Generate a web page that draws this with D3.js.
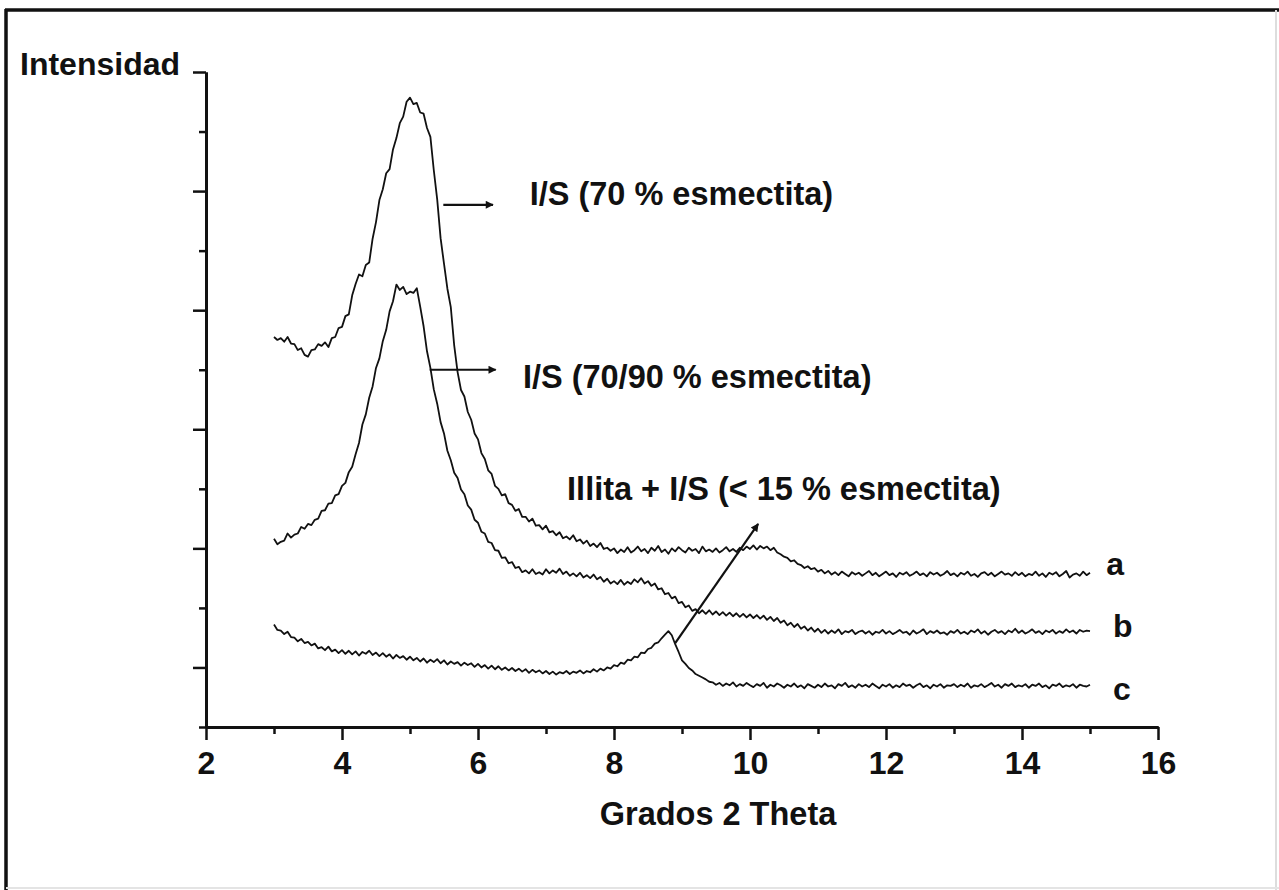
<!DOCTYPE html>
<html>
<head>
<meta charset="utf-8">
<script src="https://cdn.jsdelivr.net/npm/d3@7"></script>
<style>
  body { margin: 0; background: #fff; }
  svg { display: block; }
  text { font-family: "Liberation Sans", Arial, sans-serif; font-weight: bold; fill: #111; }
</style>
</head>
<body>
<div class="container"></div>
<script>
var svgWidth = 1279;
var svgHeight = 890;

// 2-theta sampling grid (degrees), 3.00 .. 15.00 step 0.05
var theta = d3.range(300, 1501, 5).map(function (d) { return d / 100; });

// intensities (arbitrary units)
var seriesA = [
  6.55, 6.50, 6.53, 6.47, 6.55, 6.44, 6.43, 6.33, 6.36, 6.25,
  6.22, 6.33, 6.34, 6.43, 6.40, 6.46, 6.38, 6.53, 6.55, 6.70,
  6.72, 6.90, 6.93, 7.25, 7.44, 7.60, 7.57, 7.76, 7.80, 8.20,
  8.48, 8.85, 9.03, 9.30, 9.37, 9.70, 9.89, 10.14, 10.25, 10.50,
  10.57, 10.46, 10.48, 10.32, 10.30, 10.06, 9.91, 9.35, 8.86, 8.21,
  7.78, 7.36, 7.05, 6.41, 5.96, 5.66, 5.55, 5.29, 5.16, 4.93,
  4.83, 4.60, 4.50, 4.31, 4.25, 4.05, 4.00, 3.89, 3.91, 3.76,
  3.73, 3.63, 3.66, 3.53, 3.53, 3.45, 3.50, 3.38, 3.39, 3.32,
  3.38, 3.27, 3.29, 3.22, 3.27, 3.17, 3.20, 3.15, 3.22, 3.12,
  3.15, 3.08, 3.13, 3.04, 3.08, 3.02, 3.09, 2.99, 3.01, 2.96,
  3.00, 2.92, 2.98, 2.94, 3.02, 2.93, 2.97, 3.03, 2.95, 2.99,
  2.92, 3.01, 2.96, 3.04, 2.94, 2.98, 2.91, 3.00, 2.95, 3.02,
  2.97, 2.93, 3.01, 2.96, 2.99, 2.92, 3.03, 2.95, 2.98, 2.94,
  3.00, 2.93, 2.97, 3.02, 2.95, 2.99, 2.94, 3.01, 2.97, 3.03,
  2.99, 3.05, 2.98, 3.04, 3.00, 3.03, 2.97, 3.01, 2.93, 2.90,
  2.86, 2.84, 2.78, 2.80, 2.74, 2.72, 2.67, 2.70, 2.65, 2.67,
  2.61, 2.64, 2.58, 2.62, 2.56, 2.60, 2.55, 2.61, 2.57, 2.53,
  2.60, 2.56, 2.59, 2.54, 2.58, 2.62, 2.55, 2.59, 2.53, 2.57,
  2.61, 2.55, 2.58, 2.52, 2.59, 2.56, 2.60, 2.54, 2.57, 2.61,
  2.55, 2.58, 2.53, 2.60, 2.56, 2.59, 2.54, 2.57, 2.62, 2.55,
  2.58, 2.53, 2.59, 2.56, 2.61, 2.54, 2.57, 2.52, 2.58, 2.60,
  2.55, 2.59, 2.53, 2.57, 2.61, 2.56, 2.58, 2.54, 2.60, 2.55,
  2.59, 2.53, 2.57, 2.55, 2.61, 2.54, 2.58, 2.52, 2.59, 2.56,
  2.60, 2.53, 2.57, 2.62, 2.51, 2.56, 2.58, 2.54, 2.61, 2.55,
  2.59
];
var seriesB = [
  3.16, 3.07, 3.11, 3.13, 3.25, 3.18, 3.23, 3.25, 3.36, 3.33,
  3.41, 3.39, 3.48, 3.50, 3.63, 3.64, 3.75, 3.76, 3.89, 3.91,
  4.05, 4.10, 4.28, 4.37, 4.58, 4.77, 5.08, 5.25, 5.53, 5.72,
  6.03, 6.19, 6.48, 6.67, 6.98, 7.15, 7.43, 7.34, 7.39, 7.27,
  7.31, 7.29, 7.37, 7.06, 6.73, 6.31, 6.03, 5.67, 5.43, 5.12,
  4.93, 4.64, 4.48, 4.27, 4.18, 3.99, 3.91, 3.72, 3.65, 3.48,
  3.43, 3.28, 3.25, 3.11, 3.09, 2.97, 2.96, 2.84, 2.85, 2.75,
  2.77, 2.67, 2.69, 2.60, 2.63, 2.58, 2.65, 2.57, 2.60, 2.56,
  2.65, 2.58, 2.63, 2.59, 2.66, 2.57, 2.61, 2.54, 2.58, 2.53,
  2.59, 2.51, 2.55, 2.50, 2.56, 2.48, 2.52, 2.44, 2.49, 2.41,
  2.45, 2.40, 2.47, 2.39, 2.44, 2.40, 2.48, 2.43, 2.50, 2.41,
  2.45, 2.37, 2.41, 2.31, 2.33, 2.23, 2.25, 2.16, 2.19, 2.08,
  2.10, 2.01, 2.04, 1.95, 1.98, 1.91, 1.96, 1.90, 1.96, 1.89,
  1.94, 1.88, 1.93, 1.87, 1.92, 1.86, 1.91, 1.85, 1.90, 1.84,
  1.89, 1.83, 1.88, 1.82, 1.87, 1.80, 1.85, 1.78, 1.83, 1.75,
  1.79, 1.71, 1.75, 1.68, 1.73, 1.65, 1.69, 1.62, 1.67, 1.60,
  1.65, 1.58, 1.63, 1.57, 1.62, 1.58, 1.64, 1.56, 1.61, 1.59,
  1.63, 1.56, 1.60, 1.62, 1.57, 1.61, 1.55, 1.60, 1.58, 1.63,
  1.57, 1.61, 1.56, 1.59, 1.63, 1.58, 1.60, 1.55, 1.62, 1.57,
  1.60, 1.64, 1.56, 1.61, 1.58, 1.62, 1.57, 1.59, 1.55, 1.61,
  1.58, 1.63, 1.57, 1.60, 1.56, 1.62, 1.59, 1.64, 1.57, 1.61,
  1.55, 1.60, 1.63, 1.58, 1.61, 1.56, 1.62, 1.59, 1.65, 1.58,
  1.62, 1.57, 1.60, 1.64, 1.58, 1.61, 1.56, 1.62, 1.59, 1.63,
  1.57, 1.61, 1.58, 1.64, 1.59, 1.62, 1.57, 1.63, 1.60, 1.62,
  1.61
];
var seriesC = [
  1.72, 1.63, 1.62, 1.56, 1.60, 1.51, 1.50, 1.44, 1.48, 1.41,
  1.43, 1.37, 1.40, 1.32, 1.34, 1.29, 1.35, 1.27, 1.30, 1.24,
  1.29, 1.23, 1.28, 1.22, 1.27, 1.20, 1.26, 1.23, 1.28, 1.21,
  1.25, 1.19, 1.24, 1.18, 1.22, 1.15, 1.21, 1.16, 1.19, 1.13,
  1.18, 1.12, 1.16, 1.10, 1.15, 1.08, 1.13, 1.09, 1.14, 1.07,
  1.12, 1.05, 1.10, 1.06, 1.09, 1.03, 1.08, 1.04, 1.07, 1.01,
  1.06, 1.00, 1.04, 0.98, 1.03, 0.97, 1.02, 0.96, 1.00, 0.95,
  0.99, 0.94, 0.98, 0.93, 0.97, 0.91, 0.96, 0.92, 0.95, 0.90,
  0.94, 0.89, 0.93, 0.88, 0.92, 0.90, 0.94, 0.89, 0.93, 0.91,
  0.95, 0.90, 0.94, 0.92, 0.97, 0.93, 0.98, 0.95, 1.00, 0.98,
  1.04, 1.02, 1.08, 1.06, 1.13, 1.12, 1.18, 1.17, 1.25, 1.24,
  1.31, 1.33, 1.40, 1.42, 1.49, 1.55, 1.61, 1.54, 1.39, 1.26,
  1.12, 1.06, 0.99, 0.95, 0.89, 0.86, 0.83, 0.80, 0.76, 0.75,
  0.71, 0.74, 0.69, 0.73, 0.70, 0.75, 0.68, 0.72, 0.69, 0.74,
  0.70, 0.67, 0.72, 0.69, 0.74, 0.66, 0.71, 0.68, 0.73, 0.70,
  0.66, 0.71, 0.68, 0.73, 0.67, 0.70, 0.65, 0.72, 0.69, 0.66,
  0.71, 0.67, 0.73, 0.68, 0.70, 0.65, 0.72, 0.69, 0.74, 0.67,
  0.70, 0.66, 0.72, 0.68, 0.71, 0.67, 0.73, 0.69, 0.65, 0.71,
  0.68, 0.72, 0.66, 0.70, 0.67, 0.73, 0.69, 0.71, 0.66, 0.70,
  0.73, 0.67, 0.70, 0.65, 0.71, 0.68, 0.72, 0.66, 0.70, 0.69,
  0.72, 0.67, 0.71, 0.68, 0.73, 0.66, 0.70, 0.68, 0.72, 0.67,
  0.70, 0.74, 0.68, 0.71, 0.66, 0.72, 0.69, 0.73, 0.67, 0.70,
  0.68, 0.72, 0.66, 0.71, 0.69, 0.73, 0.67, 0.70, 0.65, 0.71,
  0.69, 0.73, 0.67, 0.70, 0.68, 0.72, 0.66, 0.71, 0.69, 0.68,
  0.71
];

var seriesNames = ["a", "b", "c"];
var xMajorTicks = [2, 4, 6, 8, 10, 12, 14, 16];
var xMinorTicks = [3, 5, 7, 9, 11, 13, 15];
var yMajorTicks = [1, 3, 5, 7, 9, 11];
var yMinorTicks = [0, 2, 4, 6, 8, 10];

// annotations: arrow from (x,y) to (x,y), text start at (x,y)
var notes = [
  { text: "I/S (70 % esmectita)", from: [5.49, 8.77], to: [6.22, 8.77], at: [6.76, 8.77] },
  { text: "I/S (70/90 % esmectita)", from: [5.29, 6.0], to: [6.26, 6.0], at: [6.66, 5.70] },
  { text: "Illita + I/S (< 15 % esmectita)", from: [8.90, 1.41], to: [10.12, 3.41], at: [7.31, 3.82] }
];
var curveLabels = [[15.24, 2.55], [15.34, 1.51], [15.34, 0.45]];

var svg = d3.select(".container")
    .append("svg")
    .attr("width", svgWidth)
    .attr("height", svgHeight);

// frame
svg.append("rect").attr("x", 0).attr("y", 0).attr("width", svgWidth).attr("height", svgHeight).attr("fill", "#fff");
svg.append("line").attr("x1", 6).attr("x2", 6).attr("y1", 9).attr("y2", svgHeight).attr("stroke", "#111").attr("stroke-width", 3.5);
svg.append("line").attr("x1", 5).attr("x2", svgWidth).attr("y1", 10).attr("y2", 10).attr("stroke", "#111").attr("stroke-width", 3.5);
svg.append("line").attr("x1", 1276).attr("x2", 1276).attr("y1", 10).attr("y2", svgHeight).attr("stroke", "#ddd").attr("stroke-width", 2);
svg.append("line").attr("x1", 6).attr("x2", svgWidth).attr("y1", 888).attr("y2", 888).attr("stroke", "#e4e4e4").attr("stroke-width", 2);

var xScale = d3.scaleLinear().domain([2, 16]).range([206, 1158]);
var yScale = d3.scaleLinear().domain([0, 11]).range([727, 72]);

// axes
var xMinor = d3.axisBottom(xScale).tickValues(xMinorTicks).tickSize(7).tickSizeOuter(0).tickFormat("");
var xMajor = d3.axisBottom(xScale).tickValues(xMajorTicks).tickSize(13).tickSizeOuter(0).tickPadding(11).tickFormat(d3.format("d"));
var yMinor = d3.axisLeft(yScale).tickValues(yMinorTicks).tickSize(7).tickSizeOuter(0).tickFormat("");
var yMajor = d3.axisLeft(yScale).tickValues(yMajorTicks).tickSize(13).tickSizeOuter(0).tickFormat("");

[[xMinor, "x"], [xMajor, "x"], [yMinor, "y"], [yMajor, "y"]].forEach(function (a) {
  var g = svg.append("g")
      .attr("transform", a[1] === "x" ? "translate(0," + yScale(0) + ")" : "translate(" + xScale(2) + ",0)")
      .call(a[0]);
  g.selectAll("path.domain").attr("stroke", "#111").attr("stroke-width", 3);
  g.selectAll(".tick line").attr("stroke", "#111").attr("stroke-width", 2.5);
  g.selectAll(".tick text")
      .attr("fill", "#111")
      .style("font-family", "'Liberation Sans', Arial, sans-serif")
      .style("font-weight", "bold")
      .style("font-size", "32px");
});

// axis titles
svg.append("text").attr("x", 20).attr("y", 75).style("font-size", "32px").text("Intensidad");
svg.append("text").attr("x", 718).attr("y", 825)
    .attr("text-anchor", "middle").style("font-size", "32.5px").text("Grados 2 Theta");

// curves
var line = d3.line()
    .x(function (d) { return xScale(d[0]); })
    .y(function (d) { return yScale(d[1]); });

[seriesA, seriesB, seriesC].forEach(function (s, i) {
  svg.append("path")
      .datum(theta.map(function (t, j) { return [t, s[j]]; }))
      .attr("class", "curve-" + seriesNames[i])
      .attr("fill", "none")
      .attr("stroke", "#111")
      .attr("stroke-width", 1.8)
      .attr("stroke-linejoin", "round")
      .attr("d", line);
});

// arrow head
svg.append("defs").append("marker")
    .attr("id", "head")
    .attr("viewBox", "0 0 10 10")
    .attr("refX", 9).attr("refY", 5)
    .attr("markerWidth", 13).attr("markerHeight", 8)
    .attr("markerUnits", "userSpaceOnUse")
    .attr("orient", "auto")
  .append("path")
    .attr("d", "M0,0 L10,5 L0,10 z")
    .attr("fill", "#111");

notes.forEach(function (n) {
  svg.append("line")
      .attr("x1", xScale(n.from[0])).attr("y1", yScale(n.from[1]))
      .attr("x2", xScale(n.to[0])).attr("y2", yScale(n.to[1]))
      .attr("stroke", "#111").attr("stroke-width", 2.2)
      .attr("marker-end", "url(#head)");
  svg.append("text")
      .attr("x", xScale(n.at[0])).attr("y", yScale(n.at[1]))
      .style("font-size", "32.5px")
      .text(n.text);
});

curveLabels.forEach(function (p, i) {
  svg.append("text")
      .attr("x", xScale(p[0])).attr("y", yScale(p[1]))
      .style("font-size", "32px")
      .text(seriesNames[i]);
});
</script>
</body>
</html>
